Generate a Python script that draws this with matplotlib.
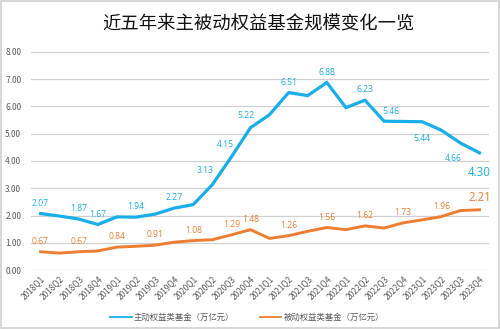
import matplotlib
matplotlib.use("Agg")
import matplotlib.pyplot as plt
from matplotlib.patches import Rectangle

plt.rcParams['font.family'] = ['Noto Sans CJK SC', 'DejaVu Sans']

quarters = ["2018Q1", "2018Q2", "2018Q3", "2018Q4",
            "2019Q1", "2019Q2", "2019Q3", "2019Q4",
            "2020Q1", "2020Q2", "2020Q3", "2020Q4",
            "2021Q1", "2021Q2", "2021Q3", "2021Q4",
            "2022Q1", "2022Q2", "2022Q3", "2022Q4",
            "2023Q1", "2023Q2", "2023Q3", "2023Q4"]
active = [2.07, 1.98, 1.87, 1.67, 1.95, 1.94, 2.05, 2.27, 2.40, 3.13, 4.15, 5.22,
          5.70, 6.51, 6.40, 6.88, 5.96, 6.23, 5.46, 5.45, 5.44, 5.13, 4.66, 4.30]
passive = [0.67, 0.62, 0.67, 0.70, 0.84, 0.87, 0.91, 1.02, 1.08, 1.11, 1.29, 1.48,
           1.16, 1.26, 1.42, 1.56, 1.48, 1.62, 1.54, 1.73, 1.84, 1.96, 2.18, 2.21]
active_labeled = [0, 2, 3, 5, 7, 9, 10, 11, 13, 15, 17, 18, 20, 22, 23]
passive_labeled = [0, 2, 4, 6, 8, 10, 11, 13, 15, 17, 19, 21, 23]
yticks = [0, 1, 2, 3, 4, 5, 6, 7, 8]
title = "近五年来主被动权益基金规模变化一览"
name_active = "主动权益类基金（万亿元）"
name_passive = "被动权益类基金（万亿元）"

BLUE = "#18AEEA"
ORANGE = "#ED7D31"

fig = plt.figure(figsize=(5.0, 3.29), dpi=100)
ax = fig.add_axes([0.062, 0.1793, 0.916, 0.6627])

x = list(range(len(quarters)))
la, = ax.plot(x, active, color=BLUE, lw=2.3, solid_joinstyle='miter', label=name_active)
lp, = ax.plot(x, passive, color=ORANGE, lw=2.1, solid_joinstyle='miter', label=name_passive)

ax.set_xlim(-0.5, len(quarters) - 0.5)
ax.set_ylim(0, 8)
ax.set_yticks(yticks)
ax.set_yticklabels([f"{v:.2f}" for v in yticks])
ax.set_xticks(x)
ax.set_xticklabels(quarters, rotation=45, ha='right', va='top', rotation_mode='anchor')
ax.tick_params(axis='x', length=0, pad=3, labelsize=6, colors='#595959')
ax.tick_params(axis='y', length=0, pad=7, labelsize=6, colors='#595959')
ax.grid(axis='y', color='#D0D0D0', lw=0.9)
ax.set_axisbelow(True)
for s in ax.spines.values():
    s.set_visible(False)

# per-label offsets in points (dx, dy)
a_off = {9: (-5, 10), 10: (-4, 9), 11: (-3, 9), 18: (5, 7), 20: (0, -12), 22: (-5, -11), 23: (0, -14)}
for i in active_labeled:
    dx, dy = a_off.get(i, (0, 7.5))
    big = i == len(quarters) - 1
    ax.annotate(f"{active[i]:.2f}", (x[i], active[i]), xytext=(dx, dy), textcoords='offset points',
                ha='center', va='center', color=BLUE, fontsize=8.3 if big else 6.2,
                family=['Open Sans', 'DejaVu Sans'])
for i in passive_labeled:
    big = i == len(quarters) - 1
    dy = 8.5 if big else 7.5
    ax.annotate(f"{passive[i]:.2f}", (x[i], passive[i]), xytext=(0, dy), textcoords='offset points',
                ha='center', va='center', color=ORANGE, fontsize=8.3 if big else 6.2,
                family=['Open Sans', 'DejaVu Sans'])

fig.text(0.516, 0.927, title, ha='center', va='center', fontsize=13.2, fontweight='medium', color='#111111')

fig.legend(handles=[la, lp], loc='center', bbox_to_anchor=(0.494, 0.036), ncol=2, frameon=False,
           fontsize=6, handlelength=2.6, handletextpad=0.3, columnspacing=3.0,
           labelcolor='#595959')
for h in fig.legends[0].legend_handles:
    h.set_linewidth(1.3)

fig.patches.append(Rectangle((0.002, 0.004), 0.996, 0.992, transform=fig.transFigure,
                             fill=False, edgecolor='#D0D0D0', lw=1.2))

fig.savefig("out.png", dpi=100, facecolor='white')
